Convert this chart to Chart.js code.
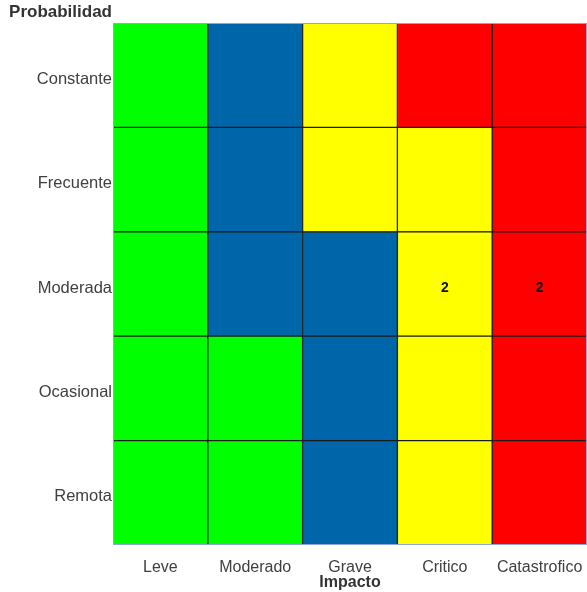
<!DOCTYPE html>
<html>
<head>
<meta charset="utf-8">
<script src="https://cdn.jsdelivr.net/npm/chart.js@4.4.0/dist/chart.umd.min.js"></script>
<style>
  html, body { margin: 0; padding: 0; background: #fff; }
  #wrap { width: 587px; height: 592px; }
</style>
</head>
<body>
<div id="wrap"><canvas id="matriz"></canvas></div>
<script>
// Ejes de la matriz de riesgo
const impacto = ['Leve', 'Moderado', 'Grave', 'Critico', 'Catastrofico'];
const probabilidad = ['Constante', 'Frecuente', 'Moderada', 'Ocasional', 'Remota'];

// Nivel de riesgo por celda (fila = probabilidad, columna = impacto)
// 0 = bajo (verde), 1 = medio (azul), 2 = alto (amarillo), 3 = extremo (rojo)
const nivelConstante = [0, 1, 2, 3, 3];
const nivelFrecuente = [0, 1, 2, 2, 3];
const nivelModerada  = [0, 1, 1, 2, 3];
const nivelOcasional = [0, 0, 1, 2, 3];
const nivelRemota    = [0, 0, 1, 2, 3];

// Cantidad de riesgos en cada celda
const conteoConstante = [0, 0, 0, 0, 0];
const conteoFrecuente = [0, 0, 0, 0, 0];
const conteoModerada  = [0, 0, 0, 2, 2];
const conteoOcasional = [0, 0, 0, 0, 0];
const conteoRemota    = [0, 0, 0, 0, 0];

const colores = ['#00ff00', '#0066aa', '#ffff00', '#ff0000'];

const niveles = [nivelConstante, nivelFrecuente, nivelModerada, nivelOcasional, nivelRemota];
const conteos = [conteoConstante, conteoFrecuente, conteoModerada, conteoOcasional, conteoRemota];

// cada fila es un dataset apilado de altura 1; se apilan desde abajo (Remota)
const datasets = probabilidad.map((p, i) => ({
  label: p,
  data: impacto.map(() => 1),
  conteo: conteos[i],
  backgroundColor: niveles[i].map(n => colores[n]),
  borderColor: '#1a1a1a',
  borderWidth: 1,
  borderSkipped: false,
  categoryPercentage: 1,
  barPercentage: 1
})).reverse();

const fuente = '"Liberation Sans", Arial, sans-serif';

// Numero de riesgos en el centro de la celda, titulo del eje Y y marco
const extras = {
  id: 'extras',
  afterDatasetsDraw(chart) {
    const ctx = chart.ctx;
    const area = chart.chartArea;
    ctx.save();
    ctx.font = 'bold 14px ' + fuente;
    ctx.fillStyle = '#111';
    ctx.textAlign = 'center';
    ctx.textBaseline = 'middle';
    chart.data.datasets.forEach((ds, di) => {
      const meta = chart.getDatasetMeta(di);
      meta.data.forEach((bar, j) => {
        const n = ds.conteo[j];
        if (!n) return;
        const c = bar.getCenterPoint();
        ctx.fillText(String(n), c.x, c.y + 4);
      });
    });

    // marco del area de graficado
    ctx.strokeStyle = '#8aa8d8';
    ctx.lineWidth = 1;
    ctx.strokeRect(area.left + 0.5, area.top + 0.5, area.right - area.left - 1, area.bottom - area.top - 1);

    // titulo del eje Y, alineado al borde izquierdo del area
    ctx.font = 'bold 17px ' + fuente;
    ctx.fillStyle = '#333';
    ctx.textAlign = 'right';
    ctx.textBaseline = 'middle';
    ctx.fillText('Probabilidad', area.left - 1, 12);
    ctx.restore();
  }
};

new Chart(document.getElementById('matriz'), {
  type: 'bar',
  data: { labels: impacto, datasets },
  plugins: [extras],
  options: {
    responsive: true,
    maintainAspectRatio: false,
    animation: false,
    layout: { padding: { left: 0, right: 0, top: 23, bottom: 0 } },
    plugins: {
      legend: { display: false },
      tooltip: { enabled: false },
      title: { display: false }
    },
    scales: {
      x: {
        stacked: true,
        grid: { display: false, drawTicks: false },
        border: { display: false },
        ticks: {
          color: '#404040',
          padding: 13,
          maxRotation: 0,
          font: { family: fuente, size: 16 }
        },
        title: {
          display: true,
          text: 'Impacto',
          color: '#333',
          padding: { top: 0, bottom: 0 },
          font: { family: fuente, size: 16, weight: 'bold' }
        },
        afterFit(scale) {
          scale.height = 47;
          scale.paddingLeft = 0;
          scale.paddingRight = 0;
        }
      },
      y: {
        stacked: true,
        min: 0,
        max: 5,
        grid: { display: false, drawTicks: false },
        border: { display: false },
        afterBuildTicks(scale) {
          scale.ticks = probabilidad.map((p, i) => ({ value: i + 0.5 }));
        },
        ticks: {
          color: '#404040',
          padding: 1,
          labelOffset: 4,
          font: { family: fuente, size: 16.5 },
          callback: v => probabilidad[4 - Math.floor(v)]
        },
        afterFit(scale) {
          scale.width = 113;
          scale.paddingTop = 0;
          scale.paddingBottom = 0;
        }
      }
    }
  }
});
</script>
</body>
</html>
